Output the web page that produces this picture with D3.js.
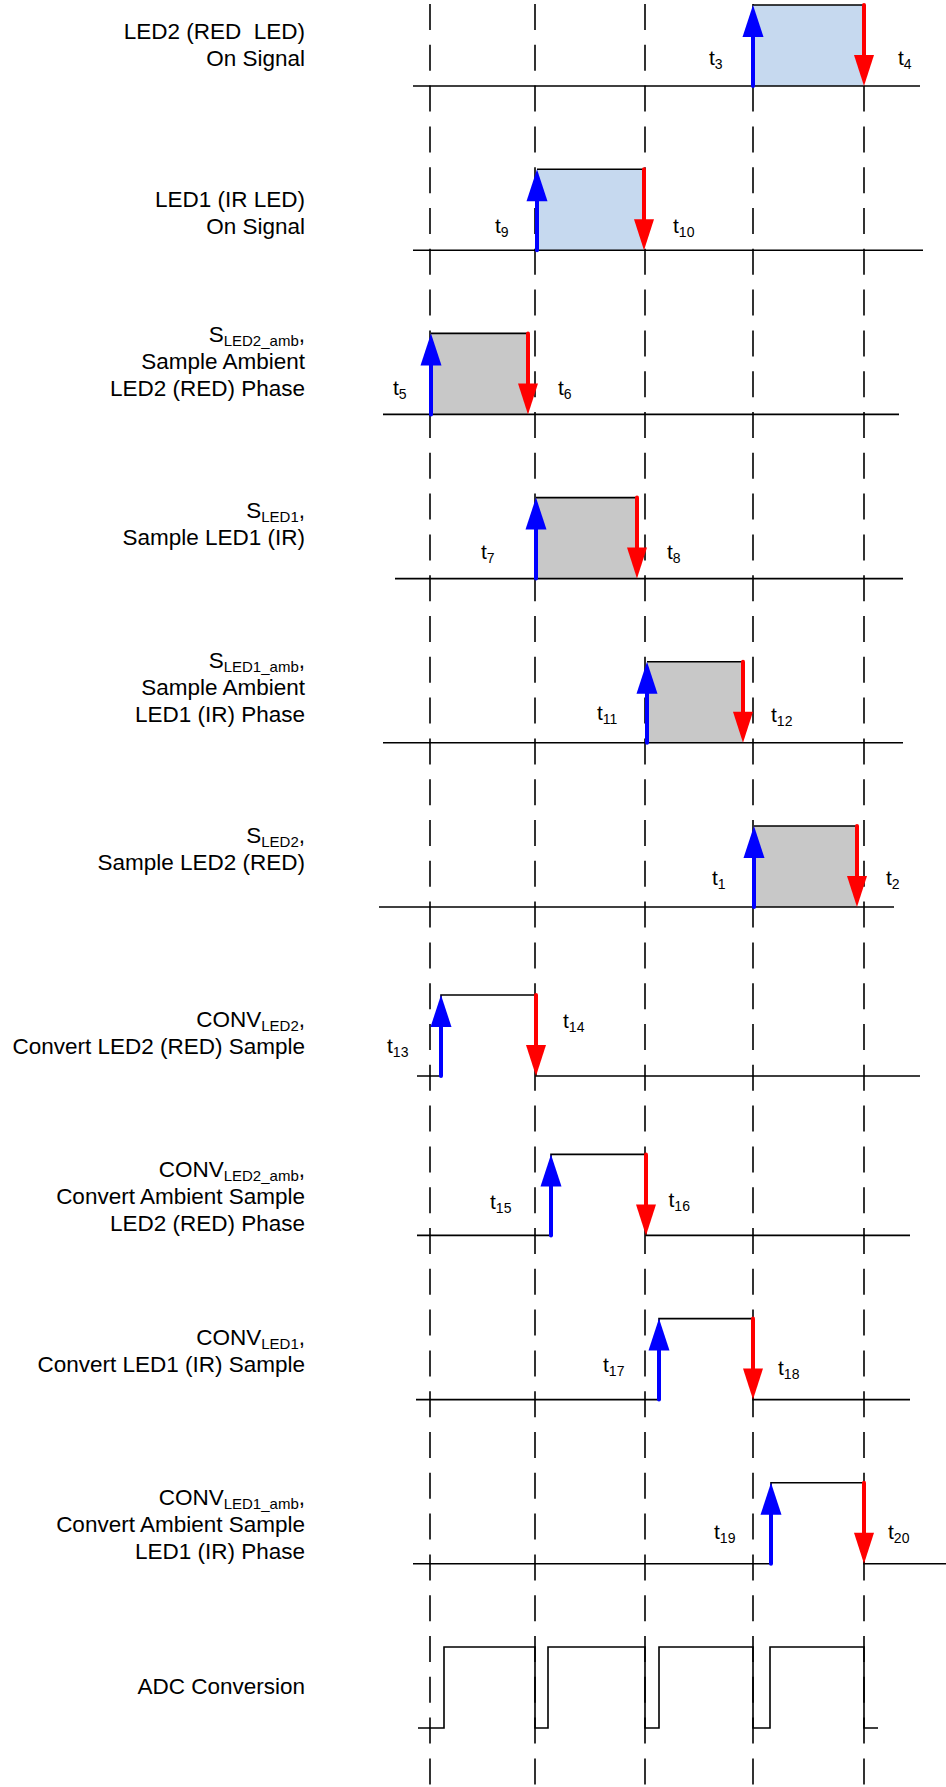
<!DOCTYPE html>
<html><head><meta charset="utf-8">
<script src="https://cdn.jsdelivr.net/npm/d3@7"></script>
<style>
body{margin:0;background:#fff}
svg{display:block}
text{font-family:"Liberation Sans",Arial,Helvetica,sans-serif;fill:#000;white-space:pre}
</style>
</head><body>
<svg id="c" width="946" height="1787"></svg>
<script>
// ---------------- data (time in arbitrary units, 0 = first dashed marker) ----------------
const gridTimes = [0, 105, 215, 323, 434];
const rowNames = ["LED2","LED1","SLED2amb","SLED1","SLED1amb","SLED2","CONVLED2","CONVLED2amb","CONVLED1","CONVLED1amb","ADC"];
const rowKinds = ["led","led","sample","sample","sample","sample","conv","conv","conv","conv","adc"];
// each label line = list of [text, isSubscript]
const rowLabels = [
  [[["LED2 (RED  LED)",0]],[["On Signal",0]]],
  [[["LED1 (IR LED)",0]],[["On Signal",0]]],
  [[["S",0],["LED2_amb",1],[",",0]],[["Sample Ambient",0]],[["LED2 (RED) Phase",0]]],
  [[["S",0],["LED1",1],[",",0]],[["Sample LED1 (IR)",0]]],
  [[["S",0],["LED1_amb",1],[",",0]],[["Sample Ambient",0]],[["LED1 (IR) Phase",0]]],
  [[["S",0],["LED2",1],[",",0]],[["Sample LED2 (RED)",0]]],
  [[["CONV",0],["LED2",1],[",",0]],[["Convert LED2 (RED) Sample",0]]],
  [[["CONV",0],["LED2_amb",1],[",",0]],[["Convert Ambient Sample",0]],[["LED2 (RED) Phase",0]]],
  [[["CONV",0],["LED1",1],[",",0]],[["Convert LED1 (IR) Sample",0]]],
  [[["CONV",0],["LED1_amb",1],[",",0]],[["Convert Ambient Sample",0]],[["LED1 (IR) Phase",0]]],
  [[["ADC Conversion",0]]]
];
const lineStart = [-17,-17,-47,-35,-47,-51,-13,-13,-14,-17,-12];
const lineEnd   = [490,493,469,473,473,464,490,480,480,516,448];
const riseTimes = [323,107,1,106,217,324,11,121,229,341];
const fallTimes = [434,214,98,207,313,427,106,216,323,434];
const startTags = ["3","9","5","7","11","1","13","15","17","19"];
const endTags   = ["4","10","6","8","12","2","14","16","18","20"];
const startTagAt    = [279,65,-37,51,167,282,-43,60,173,284];
const startTagLevel = [.26,.21,.24,.24,.28,.27,.28,.33,.34,.31];
const endTagAt      = [468,243,128,237,341,456,133,238.5,348,458];
const endTagLevel   = [.26,.21,.24,.24,.26,.27,.59,.35,.30,.31];
const adcRise = [14,118,229,340];
const adcFall = [105,215,323,434];

// ---------------- layout ----------------
const labelFirstLine = [-47,-43,-72.7,-60.6,-74.8,-64,-49,-58.7,-54.6,-58.8,-34];
const rowNudge = [0,0,0,0,0,0,4.8,0,0,0,0];

// ---------------- scales ----------------
const W = 946, H = 1787;
const x = d3.scaleLinear().domain([0,434]).range([430,864]);
const row = d3.scalePoint().domain(rowNames).range([86,1728]);
const lvl = d3.scaleLinear().domain([0,1]).range([0,-81]);
const baseOf = i => row(rowNames[i]) + rowNudge[i];
const yOf = (i, level) => baseOf(i) + lvl(level);

const svg = d3.select("#c");
const BLUE = "#0000ff", RED = "#ff0000";
const fillOf = {led:"#c6d9ef", sample:"#c8c8c8"};

// dashed markers
svg.append("g").selectAll("line").data(gridTimes).join("line")
  .attr("x1", d=>x(d)).attr("x2", d=>x(d)).attr("y1", 4).attr("y2", H)
  .attr("stroke","#000").attr("stroke-width",1.6).attr("stroke-dasharray","26,14.8");

// row labels
rowLabels.forEach((lines, i) => {
  const t = svg.append("text").attr("text-anchor","end").attr("font-size",22.5);
  lines.forEach((segs, li) => {
    segs.forEach((s, si) => {
      const ts = t.append("tspan").text(s[0]);
      if (si === 0) ts.attr("x",305).attr("y", baseOf(i) + labelFirstLine[i] + li*27);
      if (s[1]) ts.attr("font-size",15).attr("dy",4);
      else if (si > 0 && segs[si-1][1]) ts.attr("dy",-4);
    });
  });
});

function arrowUp(g, xx, yLow, yHigh){
  g.append("line").attr("x1",xx).attr("x2",xx).attr("y1",yLow).attr("y2",yHigh+20)
    .attr("stroke",BLUE).attr("stroke-width",4).attr("stroke-linecap","round");
  g.append("path").attr("d",`M${xx},${yHigh} L${xx-10.5},${yHigh+32} L${xx+10.5},${yHigh+32} Z`).attr("fill",BLUE);
}
function arrowDown(g, xx, yHigh, yLow){
  g.append("line").attr("x1",xx).attr("x2",xx).attr("y1",yHigh).attr("y2",yLow-20)
    .attr("stroke",RED).attr("stroke-width",4).attr("stroke-linecap","round");
  g.append("path").attr("d",`M${xx},${yLow} L${xx-10},${yLow-31} L${xx+10},${yLow-31} Z`).attr("fill",RED);
}
function tag(g, num, t, level, i){
  const tx = g.append("text").attr("x",x(t)).attr("y",yOf(i,level)).attr("font-size",21);
  tx.append("tspan").text("t");
  tx.append("tspan").text(num).attr("font-size",14).attr("dy",4);
}

// signal rows
rowNames.forEach((name, i) => {
  const g = svg.append("g");
  const kind = rowKinds[i];
  const yl = yOf(i,0), yh = yOf(i,1);
  if (kind === "led" || kind === "sample") {
    g.append("rect").attr("x",x(riseTimes[i])).attr("y",yh)
      .attr("width",x(fallTimes[i])-x(riseTimes[i])).attr("height",yl-yh).attr("fill",fillOf[kind]);
    g.append("line").attr("x1",x(lineStart[i])).attr("x2",x(lineEnd[i])).attr("y1",yl).attr("y2",yl)
      .attr("stroke","#000").attr("stroke-width",1.6);
    g.append("line").attr("x1",x(riseTimes[i])).attr("x2",x(fallTimes[i])).attr("y1",yh).attr("y2",yh)
      .attr("stroke","#000").attr("stroke-width",1.6);
  } else if (kind === "conv") {
    const p = d3.path();
    p.moveTo(x(lineStart[i]),yl); p.lineTo(x(riseTimes[i]),yl); p.lineTo(x(riseTimes[i]),yh);
    p.lineTo(x(fallTimes[i]),yh); p.lineTo(x(fallTimes[i]),yl); p.lineTo(x(lineEnd[i]),yl);
    g.append("path").attr("d",p.toString()).attr("fill","none").attr("stroke","#000").attr("stroke-width",1.6);
  } else {
    const p = d3.path();
    p.moveTo(x(lineStart[i]),yl);
    adcRise.forEach((r,k)=>{
      p.lineTo(x(r),yl); p.lineTo(x(r),yh); p.lineTo(x(adcFall[k]),yh); p.lineTo(x(adcFall[k]),yl);
    });
    p.lineTo(x(lineEnd[i]),yl);
    g.append("path").attr("d",p.toString()).attr("fill","none").attr("stroke","#000").attr("stroke-width",1.6);
  }
  if (kind !== "adc") {
    arrowUp(g, x(riseTimes[i]), yl, yh);
    arrowDown(g, x(fallTimes[i]), yh, yl);
    tag(g, startTags[i], startTagAt[i], startTagLevel[i], i);
    tag(g, endTags[i], endTagAt[i], endTagLevel[i], i);
  }
});
</script>
</body></html>
